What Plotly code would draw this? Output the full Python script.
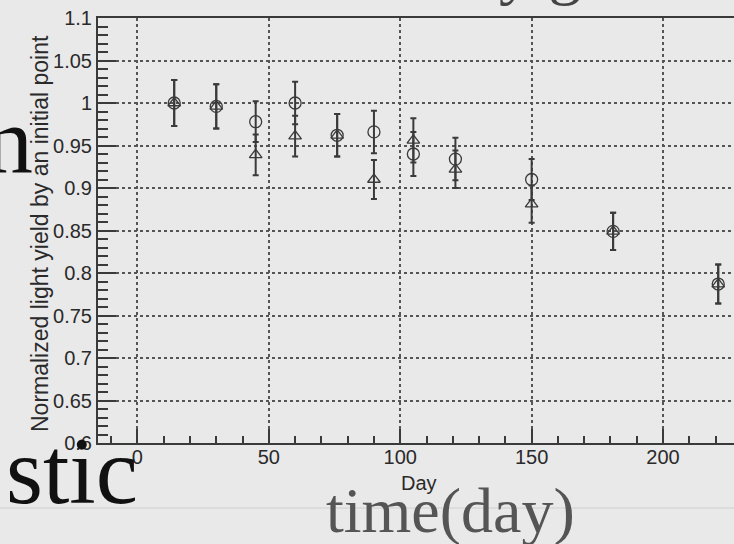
import plotly.graph_objects as go

# ---------------- data ----------------
days = [14, 30, 45, 60, 76, 90, 105, 121, 150, 181, 221]
circle_vals = [1.000, 0.996, 0.978, 1.000, 0.962, 0.966, 0.940, 0.934, 0.910, 0.849, 0.787]
circle_errs = [0.027, 0.026, 0.024, 0.025, 0.025, 0.025, 0.026, 0.025, 0.024, 0.022, 0.023]
triangle_vals = [1.000, 0.996, 0.939, 0.961, 0.962, 0.910, 0.956, 0.922, 0.881, 0.849, 0.787]
triangle_errs = [0.027, 0.026, 0.024, 0.024, 0.025, 0.023, 0.026, 0.022, 0.022, 0.022, 0.023]

y_tick_vals = [0.6, 0.65, 0.7, 0.75, 0.8, 0.85, 0.9, 0.95, 1.0, 1.05, 1.1]
y_tick_text = ["0.6", "0.65", "0.7", "0.75", "0.8", "0.85", "0.9", "0.95", "1", "1.05", "1.1"]
x_tick_vals = [0, 50, 100, 150, 200]
x_tick_text = ["0", "50", "100", "150", "200"]

x_title = "Day"
y_title = "Normalized light yield by an initial point"

# ---------------- layout geometry ----------------
W, H = 734, 544
L, R, T, B = 98, 0, 18, 101
PW, PH = W - L - R, H - T - B


def px_x(px):
    return (px - L) / PW


def px_y(py):
    return (H - B - py) / PH


ink = "#3a3a3a"
fig = go.Figure()

fig.add_trace(go.Scatter(
    x=days, y=triangle_vals, mode="markers", cliponaxis=False,
    marker=dict(symbol="triangle-up-open", size=11, color=ink, line=dict(width=1.3, color=ink)),
    error_y=dict(type="data", array=triangle_errs, visible=True, color=ink, thickness=2, width=3),
    showlegend=False,
))
fig.add_trace(go.Scatter(
    x=days, y=circle_vals, mode="markers", cliponaxis=False,
    marker=dict(symbol="circle-open", size=12, color=ink, line=dict(width=1.3, color=ink)),
    error_y=dict(type="data", array=circle_errs, visible=True, color=ink, thickness=2, width=3),
    showlegend=False,
))

tick_font = dict(family="Liberation Sans, Arial, sans-serif", size=20, color="#2a2a2a")

fig.update_xaxes(
    range=[-15, 227], tickvals=x_tick_vals, ticktext=x_tick_text,
    ticks="inside", ticklen=14, tickwidth=2, tickcolor=ink,
    minor=dict(ticks="inside", ticklen=7, tickwidth=2, tickcolor=ink, dtick=10, tick0=0, showgrid=False),
    showline=True, linecolor=ink, linewidth=2, mirror=True,
    showgrid=True, gridcolor="#555555", gridwidth=1.5, griddash="dot",
    zeroline=False, tickfont=tick_font, ticklabelstandoff=-5,
)
fig.update_yaxes(
    range=[0.6, 1.1], tickvals=y_tick_vals, ticktext=y_tick_text,
    ticks="inside", ticklen=18, tickwidth=2, tickcolor=ink,
    minor=dict(ticks="inside", ticklen=10, tickwidth=2, tickcolor=ink, dtick=0.01, tick0=0.6, showgrid=False),
    showline=True, linecolor=ink, linewidth=2, mirror=False,
    showgrid=True, gridcolor="#555555", gridwidth=1.5, griddash="dot",
    zeroline=False, tickfont=tick_font,
)

serif = "Liberation Serif, Times New Roman, serif"
annotations = [
    dict(text=y_title, x=px_x(40), y=px_y(234), textangle=-90, showarrow=False,
         xanchor="center", yanchor="middle",
         font=dict(family="Liberation Sans, Arial, sans-serif", size=23, color="#2a2a2a")),
    dict(text=x_title, x=px_x(419), y=px_y(483), showarrow=False, xanchor="center", yanchor="middle",
         font=dict(family="Liberation Sans, Arial, sans-serif", size=20, color="#2a2a2a")),
    dict(text="n", x=px_x(35), y=px_y(140), showarrow=False, xanchor="right", yanchor="middle",
         font=dict(family=serif, size=96, color="#111111")),
    dict(text="stic", x=px_x(140), y=px_y(471), showarrow=False, xanchor="right", yanchor="middle",
         font=dict(family=serif, size=95, color="#111111")),
    dict(text="time(day)", x=px_x(450), y=px_y(510), showarrow=False, xanchor="center", yanchor="middle",
         font=dict(family=serif, size=64, color="#555555")),
    dict(text="y g", x=px_x(540), y=px_y(-30), showarrow=False, xanchor="center", yanchor="middle",
         font=dict(family=serif, size=66, color="#444444")),
]
for a in annotations:
    a.update(xref="paper", yref="paper")

fig.update_layout(
    width=W, height=H,
    margin=dict(l=L, r=R, t=T, b=B, pad=0),
    paper_bgcolor="#e9e9e9", plot_bgcolor="rgba(0,0,0,0)",
    annotations=annotations,
    shapes=[dict(type="line", xref="paper", yref="paper", x0=px_x(0), x1=px_x(W),
                 y0=px_y(508), y1=px_y(508), line=dict(color="#cfcfcf", width=1), layer="below")],
)

fig.write_html(
    "out.html",
    config={"displayModeBar": False},
    post_script="document.body.style.margin='0';document.body.style.overflow='hidden';",
)
